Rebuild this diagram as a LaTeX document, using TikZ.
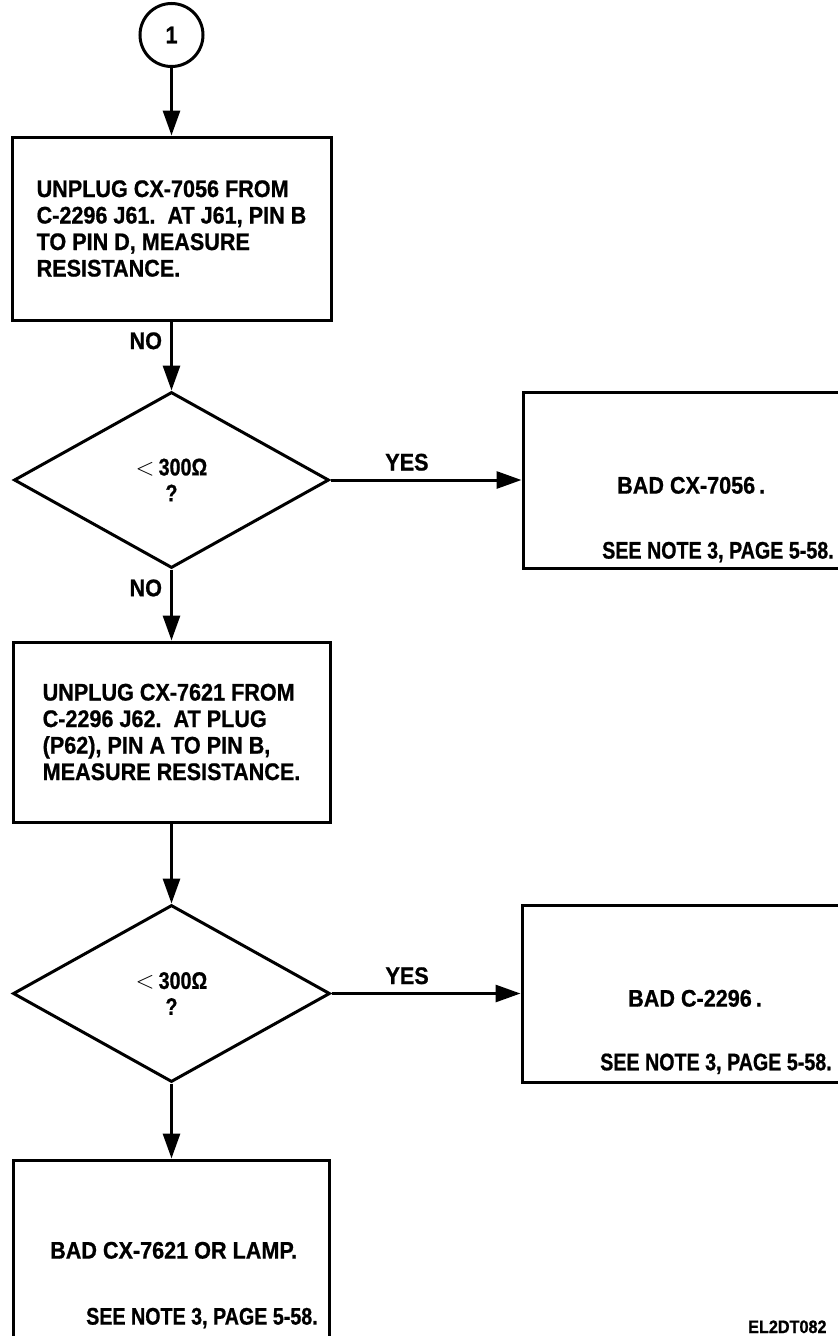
\documentclass[tikz,border=0pt]{standalone}
\usepackage{fontspec}
\setmainfont{Liberation Sans}[FakeStretch=0.9, BoldFeatures={FakeBold=0.8}]
\newfontfamily\condfont{Liberation Sans}[FakeStretch=0.82, BoldFeatures={FakeBold=0.8}]
\usetikzlibrary{arrows.meta,shapes.geometric}
\tikzset{
  flow/.style={line width=3pt, -{Triangle[length=25pt,width=17pt]}},
  boxnode/.style={draw, line width=3pt, rectangle, inner sep=0pt, align=left,
    font=\fontsize{24}{26.5}\selectfont\bfseries},
  decide/.style={draw, line width=3pt, diamond, inner sep=0pt, align=center,
    font=\fontsize{24}{26}\selectfont\bfseries\condfont},
  lbl/.style={inner sep=0pt, font=\fontsize{24}{26}\selectfont\bfseries},
  cond/.style={inner sep=0pt, font=\fontsize{24}{26}\selectfont\bfseries\condfont},
}
\newcommand{\lessthan}{{\fontsize{27}{26}\selectfont$<$}}
\begin{document}
\begin{tikzpicture}[x=1pt,y=-1pt]
\useasboundingbox[fill=white] (0,0) rectangle (838,1336);

\node[draw, line width=3pt, circle, minimum size=63pt, inner sep=0pt,
  font=\fontsize{24}{26}\selectfont\bfseries] (start) at (171.5,35) {1};

\node[boxnode, minimum width=319pt, minimum height=183pt] (box1) at (171.5,228.5)
  {UNPLUG CX-7056 FROM\\C-2296 J61.\ \ AT J61, PIN B\\TO PIN D, MEASURE\\RESISTANCE.};

\node[decide, minimum width=315pt, minimum height=176pt] (d1) at (171.5,480)
  {\lessthan\,300Ω\\?};

\node[boxnode, minimum width=327pt, minimum height=176pt] (box2) at (686.5,480) {};
\node[lbl, anchor=base west] (t2a) at (617,493.6) {BAD CX-7056\,.};
\node[cond, anchor=base west] (t2b) at (602,558.6) {SEE NOTE 3, PAGE 5-58.};

\node[boxnode, minimum width=317pt, minimum height=180pt] (box3) at (171.5,732)
  {UNPLUG CX-7621 FROM\\C-2296 J62.\ \ AT PLUG\\(P62), PIN A TO PIN B,\\MEASURE RESISTANCE.};

\node[decide, minimum width=317pt, minimum height=177pt] (d2) at (171.5,993.5)
  {\lessthan\,300Ω\\?};

\node[boxnode, minimum width=328pt, minimum height=177pt] (box4) at (686,993.5) {};
\node[lbl, anchor=base west] (t4a) at (628,1006.6) {BAD C-2296\,.};
\node[cond, anchor=base west] (t4b) at (600,1070.3) {SEE NOTE 3, PAGE 5-58.};

\node[boxnode, minimum width=316pt, minimum height=177pt] (box5) at (171.5,1248.5) {};
\node[lbl, anchor=base west] (t5a) at (50,1258.6) {BAD CX-7621 OR LAMP.};
\node[cond, anchor=base west] (t5b) at (86,1324.6) {SEE NOTE 3, PAGE 5-58.};

\node[inner sep=0pt, anchor=base west, font=\fontsize{18}{20}\selectfont\bfseries] (fig) at (748,1333) {EL2DT082};

\draw[flow] (start) -- (box1);
\draw[flow] (box1.south) -- node[lbl, pos=0.28, anchor=east, xshift=-8pt] (no1) {NO} (d1.north);
\draw[flow] (d1.east) -- node[lbl, pos=0.4, anchor=base, yshift=9.5pt] (yes1) {YES} (box2.west);
\draw[flow] (d1.south) -- node[lbl, pos=0.26, anchor=east, xshift=-8pt] (no2) {NO} (box3.north);
\draw[flow] (box3.south) -- (d2.north);
\draw[flow] (d2.east) -- node[lbl, pos=0.4, anchor=base, yshift=9.5pt] (yes2) {YES} (box4.west);
\draw[flow] (d2.south) -- (box5.north);
\end{tikzpicture}
\end{document}
